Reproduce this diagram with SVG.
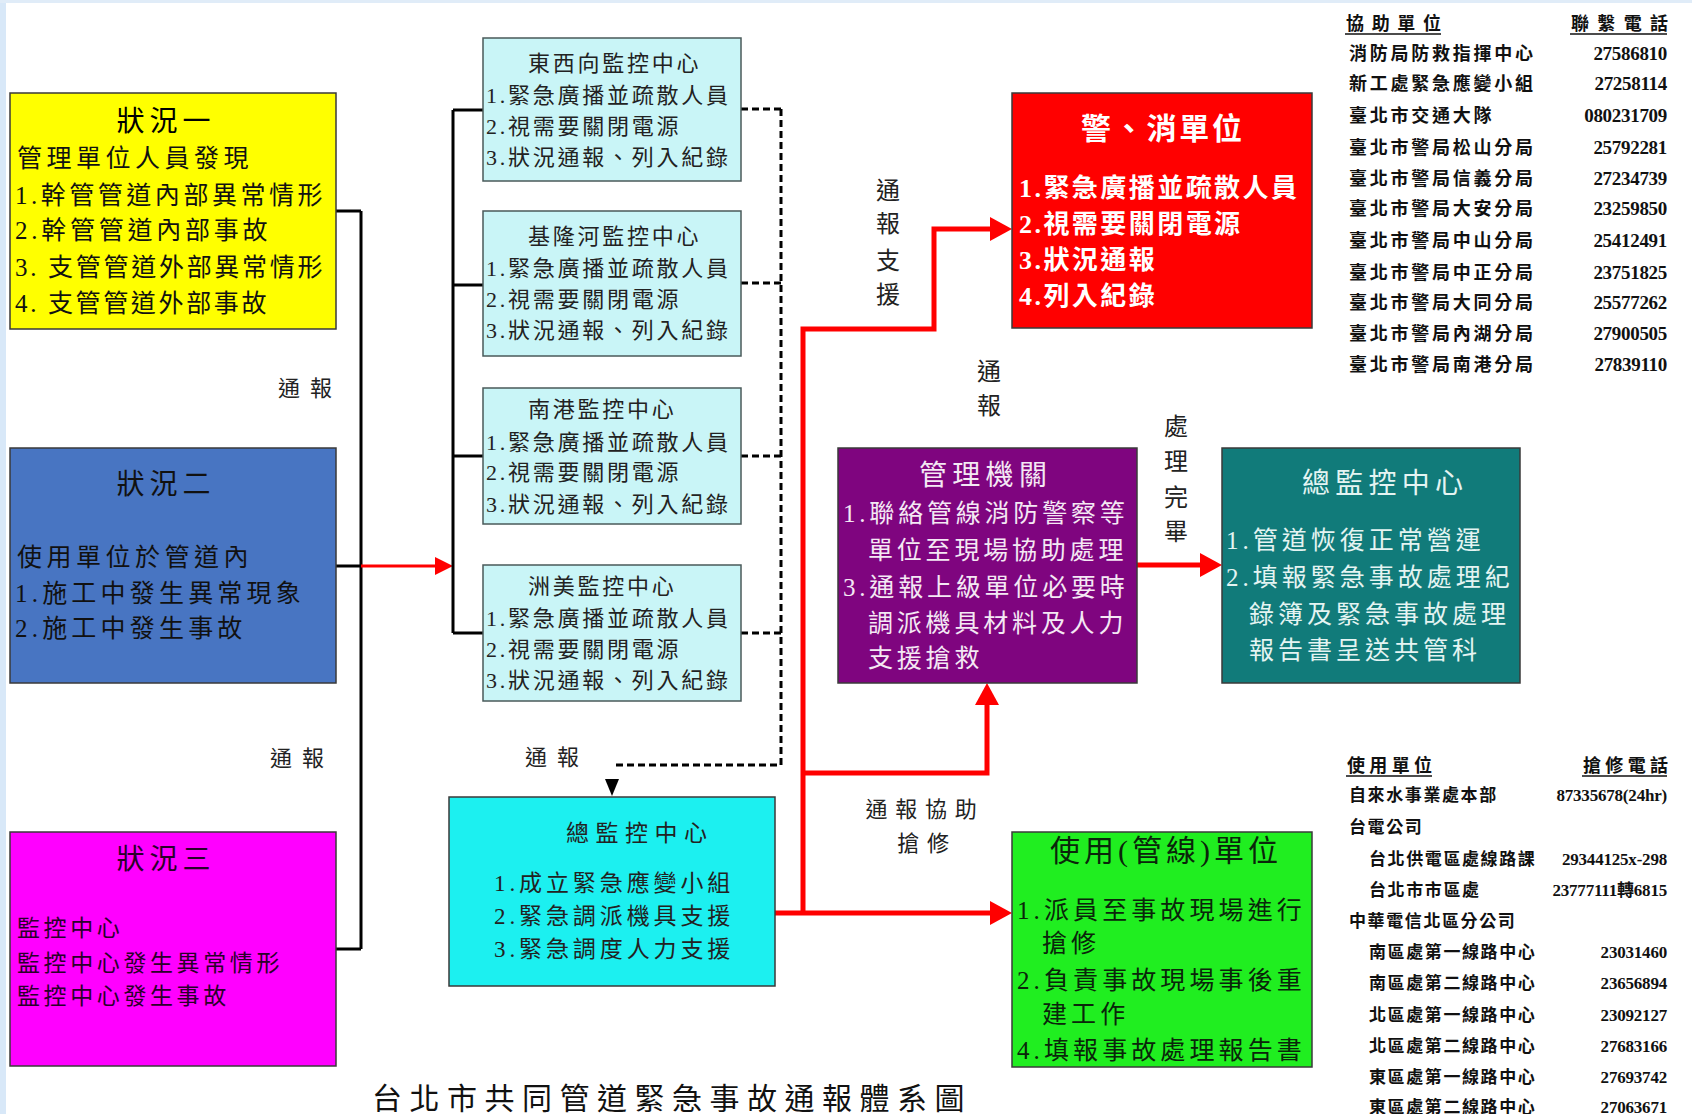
<svg xmlns="http://www.w3.org/2000/svg" width="1692" height="1114" viewBox="0 0 1692 1114">
<style>
text{font-family:"Liberation Serif","Noto Sans CJK TC",serif;}
.box{stroke:#3a3a3a;stroke-width:1.5;}
.mon{fill:#C9F5F7;stroke:#4a5a5a;stroke-width:1.5;}
.ttl{font-size:28px;text-anchor:middle;}
.lb{font-size:25px;letter-spacing:4.5px;fill:#111;}
.lb2{font-size:25px;letter-spacing:4.2px;fill:#111;}
.lm{font-size:23px;letter-spacing:3.6px;fill:#2a002a;}
.mt{font-size:22px;letter-spacing:2.75px;fill:#222;}
.gc{font-size:23px;letter-spacing:3.9px;fill:#222;}
.rd{font-size:26px;letter-spacing:2.45px;fill:#fff;font-weight:bold;}
.pu{font-size:25px;letter-spacing:3.8px;fill:#F4E8F4;}
.te{font-size:25px;letter-spacing:4px;fill:#E4F4F2;}
.gr{font-size:25px;letter-spacing:4.1px;fill:#0a250a;}
.lab{font-size:22px;fill:#222;}
.vl{font-size:24px;fill:#222;text-anchor:middle;}
.tn{font-size:18px;letter-spacing:2.75px;fill:#111;font-weight:bold;}
.tn2{font-size:17px;letter-spacing:1.6px;fill:#111;font-weight:bold;}
.th{font-size:18px;fill:#111;font-weight:bold;}
.num{font-size:19px;fill:#111;font-weight:bold;text-anchor:end;letter-spacing:-0.3px;}
.num2{font-size:17px;fill:#111;font-weight:bold;text-anchor:end;letter-spacing:-0.2px;}
.blk{fill:none;stroke:#000;stroke-width:3;}
.dsh{fill:none;stroke:#000;stroke-width:3;stroke-dasharray:7 4;}
.red{fill:none;stroke:#FF0000;stroke-width:5;}
.ul{stroke:#111;stroke-width:1.3;}
</style>
<defs>
<marker id="ah" viewBox="0 0 22 24" refX="1" refY="12" markerWidth="22" markerHeight="24" markerUnits="userSpaceOnUse" orient="auto"><path d="M0,0 L22,12 L0,24 z" fill="#FF0000"/></marker>
<marker id="ahs" viewBox="0 0 18 18" refX="1" refY="9" markerWidth="18" markerHeight="18" markerUnits="userSpaceOnUse" orient="auto"><path d="M0,0 L18,9 L0,18 z" fill="#FF0000"/></marker>
</defs>
<rect x="0" y="0" width="1692" height="1114" fill="#fff"/>
<rect x="0" y="0" width="6" height="1114" fill="#D8E8F8"/>
<rect x="0" y="0" width="1692" height="3" fill="#E0ECF8"/>

<g id="connectors">
<path class="blk" d="M335,211 H361 M335,566 H361 M335,949 H361 M361,211 V949"/>
<path d="M361,566 H436" fill="none" stroke="#FF0000" stroke-width="3" marker-end="url(#ahs)"/>
<path class="blk" d="M453,110 V633 M453,110 H483 M453,285 H483 M453,456 H483 M453,633 H483"/>
<path class="dsh" d="M741,109 H781 M741,283 H781 M741,456 H781 M741,633 H781"/>
<path class="dsh" d="M781,109 V765 H612"/>
<polygon points="605,779 619,779 612,796" fill="#000"/>
<path class="red" d="M803,913 V329 H934 V229 H991" marker-end="url(#ah)"/>
<path class="red" d="M775,913 H991" marker-end="url(#ah)"/>
<path class="red" d="M803,773 H987 V704" marker-end="url(#ah)"/>
<path class="red" d="M1137,565 H1201" marker-end="url(#ah)"/>
</g>

<g id="case1">
<rect class="box" x="10" y="93" width="326" height="236" fill="#FFFF00"/>
<text class="ttl" x="166" y="131" letter-spacing="5">狀況一</text>
<text class="lb" x="17" y="167">管理單位人員發現</text>
<text class="lb" x="15" y="204" textLength="312" lengthAdjust="spacing">1.幹管管道內部異常情形</text>
<text class="lb" x="15" y="239" textLength="257" lengthAdjust="spacing">2.幹管管道內部事故</text>
<text class="lb" x="15" y="276" textLength="312" lengthAdjust="spacing">3. 支管管道外部異常情形</text>
<text class="lb" x="15" y="312" textLength="256" lengthAdjust="spacing">4. 支管管道外部事故</text>
</g>

<g id="case2">
<rect class="box" x="10" y="448" width="326" height="235" fill="#4875C2"/>
<text class="ttl" x="166" y="494" letter-spacing="5" fill="#111">狀況二</text>
<text class="lb" x="17" y="566">使用單位於管道內</text>
<text class="lb2" x="15" y="602">1.施工中發生異常現象</text>
<text class="lb2" x="15" y="637">2.施工中發生事故</text>
</g>

<g id="case3">
<rect class="box" x="10" y="832" width="326" height="234" fill="#FF00FF"/>
<text class="ttl" x="166" y="869" letter-spacing="5" fill="#2a002a">狀況三</text>
<text class="lm" x="17" y="936">監控中心</text>
<text class="lm" x="17" y="971">監控中心發生異常情形</text>
<text class="lm" x="17" y="1004">監控中心發生事故</text>
</g>

<g id="mon1">
<rect class="mon" x="483" y="38" width="258" height="143"/>
<text class="mt" x="528" y="71">東西向監控中心</text>
<text class="mt" x="486" y="103">1.緊急廣播並疏散人員</text>
<text class="mt" x="486" y="134">2.視需要關閉電源</text>
<text class="mt" x="486" y="165">3.狀況通報、列入紀錄</text>
</g>
<g id="mon2">
<rect class="mon" x="483" y="211" width="258" height="145"/>
<text class="mt" x="528" y="244">基隆河監控中心</text>
<text class="mt" x="486" y="276">1.緊急廣播並疏散人員</text>
<text class="mt" x="486" y="307">2.視需要關閉電源</text>
<text class="mt" x="486" y="338">3.狀況通報、列入紀錄</text>
</g>
<g id="mon3">
<rect class="mon" x="483" y="388" width="258" height="136"/>
<text class="mt" x="528" y="417">南港監控中心</text>
<text class="mt" x="486" y="450">1.緊急廣播並疏散人員</text>
<text class="mt" x="486" y="480">2.視需要關閉電源</text>
<text class="mt" x="486" y="512">3.狀況通報、列入紀錄</text>
</g>
<g id="mon4">
<rect class="mon" x="483" y="565" width="258" height="136"/>
<text class="mt" x="528" y="594">洲美監控中心</text>
<text class="mt" x="486" y="626">1.緊急廣播並疏散人員</text>
<text class="mt" x="486" y="657">2.視需要關閉電源</text>
<text class="mt" x="486" y="688">3.狀況通報、列入紀錄</text>
</g>

<g id="general-center">
<rect class="box" x="449" y="797" width="326" height="189" fill="#1CF0F0"/>
<text x="566" y="841" font-size="23" letter-spacing="6.5" fill="#222">總監控中心</text>
<text class="gc" x="494" y="891">1.成立緊急應變小組</text>
<text class="gc" x="494" y="924">2.緊急調派機具支援</text>
<text class="gc" x="494" y="957">3.緊急調度人力支援</text>
</g>

<g id="police-fire">
<rect class="box" x="1012" y="93" width="300" height="235" fill="#FF0000"/>
<text x="1081" y="139" font-size="30" font-weight="bold" letter-spacing="2.75" fill="#fff">警、消單位</text>
<text class="rd" x="1019" y="197">1.緊急廣播並疏散人員</text>
<text class="rd" x="1019" y="233">2.視需要關閉電源</text>
<text class="rd" x="1019" y="269">3.狀況通報</text>
<text class="rd" x="1019" y="305">4.列入紀錄</text>
</g>

<g id="authority">
<rect class="box" x="838" y="448" width="299" height="235" fill="#7F057F"/>
<text x="919" y="485" font-size="28" letter-spacing="5.3" fill="#F4E8F4">管理機關</text>
<text class="pu" x="843" y="522">1.聯絡管線消防警察等</text>
<text class="pu" x="868" y="559">單位至現場協助處理</text>
<text class="pu" x="843" y="596">3.通報上級單位必要時</text>
<text class="pu" x="868" y="632">調派機具材料及人力</text>
<text class="pu" x="868" y="667">支援搶救</text>
</g>

<g id="general-center-2">
<rect class="box" x="1222" y="448" width="298" height="235" fill="#117B7A"/>
<text x="1302" y="493" font-size="28" letter-spacing="5.25" fill="#E4F4F2">總監控中心</text>
<text class="te" x="1226" y="549">1.管道恢復正常營運</text>
<text class="te" x="1226" y="586">2.填報緊急事故處理紀</text>
<text class="te" x="1249" y="623">錄簿及緊急事故處理</text>
<text class="te" x="1249" y="659">報告書呈送共管科</text>
</g>

<g id="user-unit">
<rect class="box" x="1012" y="832" width="300" height="235" fill="#20EE20"/>
<text x="1050" y="861" font-size="30" letter-spacing="4" fill="#0a250a">使用(管線)單位</text>
<text class="gr" x="1017" y="919">1.派員至事故現場進行</text>
<text class="gr" x="1042" y="952">搶修</text>
<text class="gr" x="1017" y="989">2.負責事故現場事後重</text>
<text class="gr" x="1042" y="1023">建工作</text>
<text class="gr" x="1017" y="1059">4.填報事故處理報告書</text>
</g>

<g id="labels">
<text class="lab" x="278" y="396" letter-spacing="10">通報</text>
<text class="lab" x="270" y="766" letter-spacing="10">通報</text>
<text class="lab" x="525" y="765" letter-spacing="10">通報</text>
<text class="vl"><tspan x="888" y="199">通</tspan><tspan x="888" y="232">報</tspan><tspan x="888" y="269">支</tspan><tspan x="888" y="303">援</tspan></text>
<text class="vl"><tspan x="989" y="380">通</tspan><tspan x="989" y="414">報</tspan></text>
<text class="vl"><tspan x="1176" y="435">處</tspan><tspan x="1176" y="470">理</tspan><tspan x="1176" y="506">完</tspan><tspan x="1176" y="540">畢</tspan></text>
<text class="lab" x="925" y="817" text-anchor="middle" letter-spacing="7.7">通報協助</text>
<text class="lab" x="927" y="851" text-anchor="middle" letter-spacing="7.7">搶修</text>
<text x="372" y="1109" font-size="30" letter-spacing="7.5" fill="#111">台北市共同管道緊急事故通報體系圖</text>
</g>

<g id="assist-table">
<text class="th" x="1346" y="30" textLength="95" lengthAdjust="spacing">協助單位</text>
<line class="ul" x1="1345" y1="34" x2="1441" y2="34"/>
<text class="th" x="1571" y="30" textLength="97" lengthAdjust="spacing">聯繫電話</text>
<line class="ul" x1="1570" y1="34" x2="1667" y2="34"/>
<text class="tn" x="1349" y="60">消防局防救指揮中心</text><text class="num" x="1667" y="60">27586810</text>
<text class="tn" x="1349" y="90">新工處緊急應變小組</text><text class="num" x="1667" y="90">27258114</text>
<text class="tn" x="1349" y="122">臺北市交通大隊</text><text class="num" x="1667" y="122">080231709</text>
<text class="tn" x="1349" y="154">臺北市警局松山分局</text><text class="num" x="1667" y="154">25792281</text>
<text class="tn" x="1349" y="185">臺北市警局信義分局</text><text class="num" x="1667" y="185">27234739</text>
<text class="tn" x="1349" y="215">臺北市警局大安分局</text><text class="num" x="1667" y="215">23259850</text>
<text class="tn" x="1349" y="247">臺北市警局中山分局</text><text class="num" x="1667" y="247">25412491</text>
<text class="tn" x="1349" y="279">臺北市警局中正分局</text><text class="num" x="1667" y="279">23751825</text>
<text class="tn" x="1349" y="309">臺北市警局大同分局</text><text class="num" x="1667" y="309">25577262</text>
<text class="tn" x="1349" y="340">臺北市警局內湖分局</text><text class="num" x="1667" y="340">27900505</text>
<text class="tn" x="1349" y="371">臺北市警局南港分局</text><text class="num" x="1667" y="371">27839110</text>
</g>

<g id="user-table">
<text class="th" x="1347" y="772" font-size="17" textLength="85" lengthAdjust="spacing">使用單位</text>
<line class="ul" x1="1346" y1="776" x2="1432" y2="776"/>
<text class="th" x="1583" y="772" font-size="17" textLength="85" lengthAdjust="spacing">搶修電話</text>
<line class="ul" x1="1582" y1="776" x2="1667" y2="776"/>
<text class="tn2" x="1349" y="801">自來水事業處本部</text><text class="num2" x="1667" y="801">87335678(24hr)</text>
<text class="tn2" x="1349" y="833">台電公司</text>
<text class="tn2" x="1369" y="865">台北供電區處線路課</text><text class="num2" x="1667" y="865">29344125x-298</text>
<text class="tn2" x="1369" y="896">台北市市區處</text><text class="num2" x="1667" y="896">23777111轉6815</text>
<text class="tn2" x="1349" y="927">中華電信北區分公司</text>
<text class="tn2" x="1369" y="958">南區處第一線路中心</text><text class="num2" x="1667" y="958">23031460</text>
<text class="tn2" x="1369" y="989">南區處第二線路中心</text><text class="num2" x="1667" y="989">23656894</text>
<text class="tn2" x="1369" y="1021">北區處第一線路中心</text><text class="num2" x="1667" y="1021">23092127</text>
<text class="tn2" x="1369" y="1052">北區處第二線路中心</text><text class="num2" x="1667" y="1052">27683166</text>
<text class="tn2" x="1369" y="1083">東區處第一線路中心</text><text class="num2" x="1667" y="1083">27693742</text>
<text class="tn2" x="1369" y="1113">東區處第二線路中心</text><text class="num2" x="1667" y="1113">27063671</text>
</g>
</svg>
